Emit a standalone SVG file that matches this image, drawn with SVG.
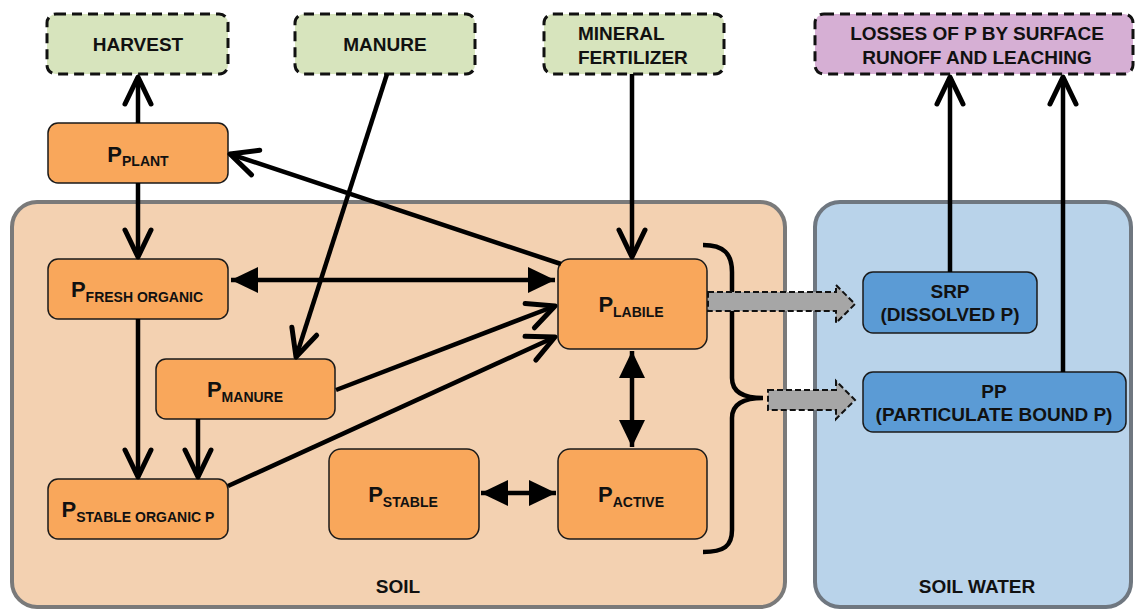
<svg xmlns="http://www.w3.org/2000/svg" width="1135" height="609" viewBox="0 0 1135 609">
<style>
text{font-family:"Liberation Sans",Arial,sans-serif;font-weight:bold;fill:#111}
.ext{stroke:#111;stroke-width:3;stroke-dasharray:10 6}
.green{fill:#d7e4bd}
.purple{fill:#d6afd4}
.node{fill:#f9a75b;stroke:#1a1a1a;stroke-width:1.5}
.wnode{fill:#5b9bd5;stroke:#1a1a1a;stroke-width:1.5}
.t19{font-size:19px}
.p{font-size:22px}
.sub{font-size:14px}
.ln{fill:none;stroke:#000;stroke-width:4.5}
.blk{fill:#a6a6a6;stroke:#111;stroke-width:2;stroke-dasharray:6 3}
</style>
<defs>
<marker id="open" markerUnits="userSpaceOnUse" markerWidth="40" markerHeight="40" viewBox="-34 -20 40 40" refX="0" refY="0" orient="auto" overflow="visible">
<path d="M-27,-13 L0,0 L-27,13" fill="none" stroke="#000" stroke-width="5" stroke-linecap="round" stroke-linejoin="round"/>
</marker>
<marker id="tri" markerUnits="userSpaceOnUse" markerWidth="40" markerHeight="40" viewBox="-34 -20 40 40" refX="0" refY="0" orient="auto-start-reverse" overflow="visible">
<path d="M-27,-13 L0,0 L-27,13 Z" fill="#000"/>
</marker>
</defs>

<g id="soil">
<rect x="12" y="202" width="773" height="405" rx="25" fill="#f3d1b1" stroke="#7a7a7a" stroke-width="4"/>
<text class="t19" x="398" y="593" text-anchor="middle">SOIL</text>
</g>
<g id="soil-water">
<rect x="815" y="202" width="316" height="405" rx="25" fill="#b9d3ea" stroke="#6f7780" stroke-width="4"/>
<text class="t19" x="977" y="593" text-anchor="middle">SOIL WATER</text>
</g>

<g id="harvest">
<rect class="ext green" x="47" y="14" width="181" height="60" rx="9"/>
<text class="t19" x="138" y="51" text-anchor="middle">HARVEST</text>
</g>
<g id="manure">
<rect class="ext green" x="295" y="14" width="180" height="60" rx="9"/>
<text class="t19" x="385" y="51" text-anchor="middle">MANURE</text>
</g>
<g id="mineral-fertilizer">
<rect class="ext green" x="544" y="14" width="180" height="60" rx="9"/>
<text class="t19" x="578" y="39.5">MINERAL</text>
<text class="t19" x="578" y="63.5">FERTILIZER</text>
</g>
<g id="losses">
<rect class="ext purple" x="815" y="14" width="318" height="60" rx="9"/>
<text class="t19" x="977" y="39.5" text-anchor="middle">LOSSES OF P BY SURFACE</text>
<text class="t19" x="977" y="63.5" text-anchor="middle">RUNOFF AND LEACHING</text>
</g>

<g id="p-plant">
<rect class="node" x="48" y="123" width="180" height="60" rx="10"/>
<text x="138" y="162" text-anchor="middle"><tspan class="p">P</tspan><tspan class="sub" dy="4">PLANT</tspan></text>
</g>
<g id="p-fresh-organic">
<rect class="node" x="48" y="259" width="180" height="60" rx="10"/>
<text x="137" y="297" text-anchor="middle"><tspan class="p">P</tspan><tspan class="sub" dy="5">FRESH ORGANIC</tspan></text>
</g>
<g id="p-manure">
<rect class="node" x="156" y="359" width="179" height="60" rx="10"/>
<text x="245" y="397" text-anchor="middle"><tspan class="p">P</tspan><tspan class="sub" dy="5">MANURE</tspan></text>
</g>
<g id="p-stable-organic">
<rect class="node" x="48" y="479" width="180" height="60" rx="10"/>
<text x="138" y="517" text-anchor="middle"><tspan class="p">P</tspan><tspan class="sub" dy="5">STABLE ORGANIC P</tspan></text>
</g>
<g id="p-stable">
<rect class="node" x="329" y="449" width="150" height="90" rx="12"/>
<text x="403" y="502" text-anchor="middle"><tspan class="p">P</tspan><tspan class="sub" dy="5">STABLE</tspan></text>
</g>
<g id="p-labile">
<rect class="node" x="558" y="259" width="149" height="90" rx="12"/>
<text x="631" y="312" text-anchor="middle"><tspan class="p">P</tspan><tspan class="sub" dy="5">LABILE</tspan></text>
</g>
<g id="p-active">
<rect class="node" x="558" y="449" width="149" height="90" rx="12"/>
<text x="631" y="502" text-anchor="middle"><tspan class="p">P</tspan><tspan class="sub" dy="5">ACTIVE</tspan></text>
</g>
<g id="srp">
<rect class="wnode" x="863" y="272" width="174" height="61" rx="10"/>
<text class="t19" x="950" y="298" text-anchor="middle">SRP</text>
<text class="t19" x="950" y="321" text-anchor="middle">(DISSOLVED P)</text>
</g>
<g id="pp">
<rect class="wnode" x="863" y="372" width="263" height="60" rx="10"/>
<text class="t19" x="994" y="398" text-anchor="middle">PP</text>
<text class="t19" x="994" y="421" text-anchor="middle">(PARTICULATE BOUND P)</text>
</g>

<g id="connectors">
<line class="ln" x1="138" y1="123" x2="138" y2="77" marker-end="url(#open)"/>
<line class="ln" x1="138" y1="183" x2="138" y2="257" marker-end="url(#open)"/>
<line class="ln" x1="387" y1="74" x2="296" y2="357" marker-end="url(#open)"/>
<line class="ln" x1="632" y1="74" x2="632" y2="257" marker-end="url(#open)"/>
<line class="ln" x1="561" y1="264" x2="230" y2="154" marker-end="url(#open)"/>
<line class="ln" x1="231" y1="280" x2="555" y2="280" marker-start="url(#tri)" marker-end="url(#tri)"/>
<line class="ln" x1="336" y1="390" x2="555" y2="306" marker-end="url(#open)"/>
<line class="ln" x1="228" y1="486" x2="555" y2="337" marker-end="url(#open)"/>
<line class="ln" x1="138" y1="319" x2="138" y2="477" marker-end="url(#open)"/>
<line class="ln" x1="198" y1="419" x2="198" y2="477" marker-end="url(#open)"/>
<line class="ln" x1="632" y1="351" x2="632" y2="447" marker-start="url(#tri)" marker-end="url(#tri)"/>
<line class="ln" x1="481" y1="493" x2="556" y2="493" marker-start="url(#tri)" marker-end="url(#tri)"/>
<line class="ln" x1="950" y1="272" x2="950" y2="77" marker-end="url(#open)"/>
<line class="ln" x1="1063" y1="372" x2="1063" y2="77" marker-end="url(#open)"/>
<path class="ln" stroke-width="4" d="M703,245 C724,245 732,254 732,272 L732,378 C732,392 744,398 763,398 C744,398 732,404 732,418 L732,530 C732,546 724,552 703,552"/>
<polygon class="blk" points="708,292 836,292 836,285 855,304 836,323 836,311 708,311"/>
<polygon class="blk" points="768,390 836,390 836,381 855,400 836,419 836,410 768,410"/>
</g>
</svg>
